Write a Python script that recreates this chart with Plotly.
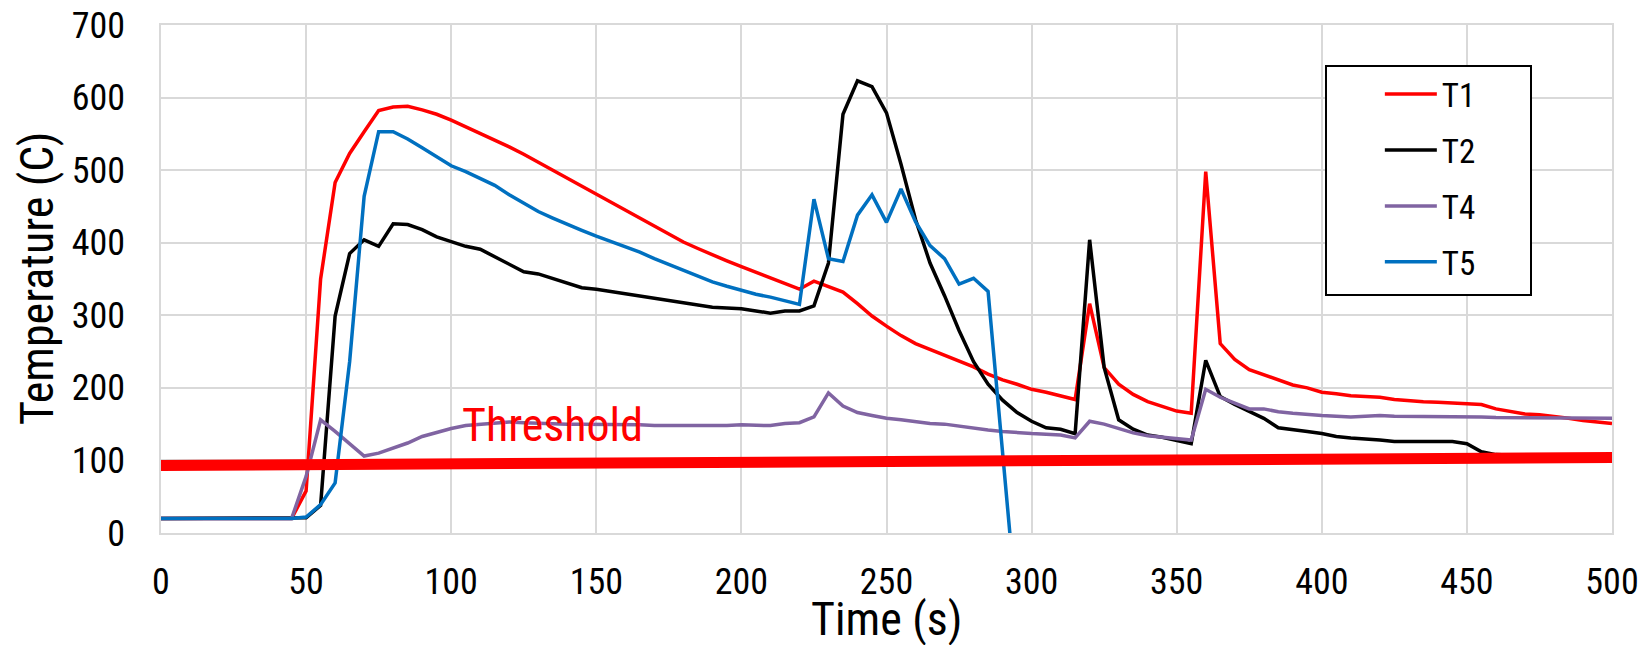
import plotly.graph_objects as go

time_s = list(range(0, 505, 5))

T1 = [20]*10 + [58, 350, 483, 523, 553, 582, 587, 588, 583, 577,
      569, 560, 551, 541, 532, 522, 511, 500, 489, 478,
      468, 456, 445, 434, 423, 412, 401, 392, 383, 375,
      367, 359, 352, 344, 336, 347, 340, 332, 316, 299,
      285, 272, 261, 253, 245, 238, 229, 219, 211, 205,
      198, 194, 189, 184, 316, 228, 205, 191, 181, 174,
      168, 165, 498, 261, 239, 225, 218, 210, 204, 200,
      194, 192, 189, 188, 187, 184, 182, 181, 180, 179,
      177, 177, 171, 167, 164, 163, 161, 158, 155, 153, 151]

T2 = [20]*10 + [21, 38, 299, 385, 404, 395, 426, 425, 418, 408,
      401, 395, 391, 381, 371, 360, 357, 351, 344, 338,
      336, 333, 329, 326, 323, 320, 317, 314, 311, 310,
      309, 306, 303, 306, 306, 313, 372, 577, 623, 615,
      579, 508, 432, 372, 327, 279, 236, 205, 183, 166,
      154, 145, 143, 137, 404, 228, 156, 143, 135, 132,
      128, 123, 238, 188, 177, 168, 158, 145, 143, 140,
      137, 133, 131, 130, 128, 126, 126, 127, 127, 126,
      123, 112, 108, 107, 106, 106, 105, 105, 104, 104, 103]

T4 = [20]*10 + [78, 156, 140, 123, 106, 110, 117, 124, 133, 139,
      144, 148, 150, 152, 153, 152, 151, 150, 150, 150,
      150, 149, 149, 149, 148, 148, 148, 147, 147, 148,
      149, 149, 148, 151, 152, 160, 193, 175, 166, 162,
      158, 156, 153, 151, 150, 147, 145, 142, 140, 138,
      137, 136, 135, 131, 154, 150, 144, 138, 134, 132,
      130, 128, 198, 187, 179, 171, 171, 167, 165, 163,
      162, 161, 160, 161, 162, 161, 161, 161, 161, 161,
      161, 160, 159, 159, 159, 159, 159, 159, 158, 158, 158]

T5 = [20]*10 + [22, 39, 69, 236, 464, 553, 553, 543, 531, 519,
      506, 498, 489, 479, 466, 455, 443, 434, 425, 417,
      409, 402, 395, 387, 378, 370, 361, 354, 346, 340,
      334, 329, 325, 320, 315, 460, 378, 374, 438, 466,
      428, 474, 429, 396, 378, 343, 351, 333, 111, -111] + [None]*41

threshold_t = [0, 500]
threshold_v = [93, 104]

series = [("T1", T1, "#FF0000"), ("T2", T2, "#000000"),
          ("T4", T4, "#8064A2"), ("T5", T5, "#0070C0")]

FONT = "Roboto Condensed, Liberation Sans, sans-serif"

fig = go.Figure()
for name, vals, col in series:
    fig.add_trace(go.Scatter(x=time_s, y=vals, name=name, mode="lines",
                             line=dict(color=col, width=3.5),
                             legendgroup=name))
fig.add_trace(go.Scatter(x=threshold_t, y=threshold_v, mode="lines",
                         line=dict(color="#FF0000", width=11),
                         showlegend=False))

grid = "#D9D9D9"
fig.update_layout(
    width=1641, height=637,
    margin=dict(l=153, r=37, t=17, b=112, autoexpand=False),
    paper_bgcolor="white", plot_bgcolor="white",
    font=dict(family=FONT, size=36, color="black"),
    showlegend=True,
    legend=dict(x=0.840, y=0.919, xanchor="left", yanchor="top",
                bgcolor="rgba(0,0,0,0)", borderwidth=0,
                font=dict(family=FONT, size=33, color="black"),
                traceorder="grouped", tracegroupgap=10, itemwidth=52),
    xaxis=dict(range=[0, 500], dtick=50, tick0=0, showgrid=True,
               gridcolor=grid, gridwidth=1.5, zeroline=False,
               showline=True, linecolor=grid, linewidth=1.5, mirror=True,
               ticks="outside", ticklen=0, ticklabelstandoff=16,
               ticklabeloverflow="allow", automargin=False,
               tickfont=dict(family=FONT, size=36)),
    yaxis=dict(range=[0, 700], dtick=100, tick0=0, showgrid=True,
               gridcolor=grid, gridwidth=1.5, zeroline=False,
               showline=True, linecolor=grid, linewidth=1.5, mirror=True,
               ticks="outside", ticklen=0, ticklabelstandoff=27,
               ticklabeloverflow="allow", automargin=False,
               tickfont=dict(family=FONT, size=36)),
    shapes=[dict(type="rect", xref="paper", yref="paper",
                 x0=(1326-161)/1451, x1=(1531-161)/1451,
                 y0=(533-295)/508, y1=(533-66)/508,
                 line=dict(color="black", width=2), fillcolor="white",
                 layer="above")],
    annotations=[
        dict(text="Threshold", x=135, y=149, xref="x", yref="y",
             showarrow=False, font=dict(family=FONT, size=46, color="#FF0000"),
             xanchor="center", yanchor="middle"),
        dict(text="Time (s)", x=0.5, y=(533-619)/508, xref="paper", yref="paper",
             showarrow=False, font=dict(family=FONT, size=46, color="black"),
             xanchor="center", yanchor="middle"),
        dict(text="Temperature (C)", x=(37-161)/1451, y=0.5, xref="paper", yref="paper",
             showarrow=False, textangle=-90,
             font=dict(family=FONT, size=46, color="black"),
             xanchor="center", yanchor="middle"),
    ],
)

fig.write_html("out.html")
